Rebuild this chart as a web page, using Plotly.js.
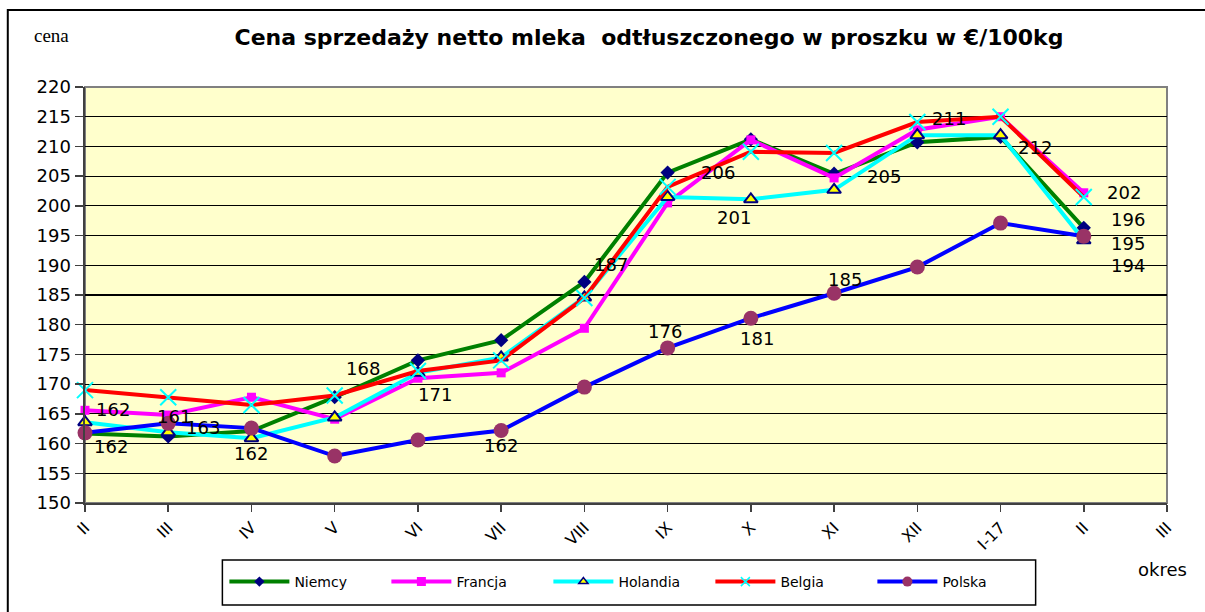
<!DOCTYPE html>
<html>
<head>
<meta charset="utf-8">
<script src="https://cdn.plot.ly/plotly-3.0.1.min.js"></script>
<style>html,body{margin:0;padding:0;background:#fff;}#chart{width:1205px;height:612px;}</style>
</head>
<body>
<div id="chart"></div>
<script>
const categories = ["II","III","IV","V","VI","VII","VIII","IX","X","XI","XII","I-17","II","III"];
const niemcy   = [161.7,161.2,162.1,167.8,174.0,177.4,187.2,205.6,211.2,205.4,210.7,211.6,196.3];
const francja  = [165.6,164.8,167.8,164.1,171.0,171.9,179.4,200.5,211.1,204.7,212.8,215.0,202.2];
const holandia = [163.6,161.9,160.9,164.4,171.9,174.5,184.6,201.5,201.1,202.7,211.9,211.9,194.2];
const belgia   = [169.0,167.8,166.5,168.1,172.2,174.0,184.5,203.2,209.1,208.9,214.1,215.0,201.5];
const polska   = [161.8,163.4,162.6,157.9,160.6,162.2,169.5,176.1,181.1,185.3,189.7,197.1,194.9];
const seriesNames = ["Niemcy","Francja","Holandia","Belgia","Polska"];
const yTicks = [150,155,160,165,170,175,180,185,190,195,200,205,210,215,220];

const SANS = "DejaVu Sans, Verdana, sans-serif";
const xIdx = categories.map((c,i)=>i);
const seriesData = [niemcy, francja, holandia, belgia, polska];
const lineColors = ["#008000","#FF00FF","#00FFFF","#FF0000","#0000FF"];
const markers = [
  {symbol:"diamond", size:11, color:"#000080"},
  {symbol:"square", size:9, color:"#FF00FF"},
  {symbol:"triangle-up", size:12, color:"#FFFF00", line:{color:"#000080", width:2}},
  {symbol:"x-thin-open", size:16, color:"#00FFFF", line:{color:"#00FFFF", width:2}},
  {symbol:"circle", size:15, color:"#993366"}
];
const legendMarkers = [
  {symbol:"diamond", size:8, color:"#000080"},
  {symbol:"square", size:9, color:"#FF00FF"},
  {symbol:"triangle-up", size:8, color:"#FFFF00", line:{color:"#000080", width:1.5}},
  {symbol:"x-thin-open", size:9, color:"#00FFFF", line:{color:"#00FFFF", width:1.5}},
  {symbol:"circle", size:10, color:"#993366"}
];

const traces = seriesData.map((vals,k)=>({
  type:"scatter", mode:"lines+markers", name:seriesNames[k], showlegend:false,
  x: xIdx.slice(0, vals.length), y: vals,
  line:{color:lineColors[k], width:4},
  marker: markers[k],
  cliponaxis:false
}));
const legendTraces = seriesNames.map((n,k)=>({
  type:"scatter", mode:"lines+markers", name:n, showlegend:true,
  x:[null], y:[null],
  line:{color:lineColors[k], width:4},
  marker: legendMarkers[k]
}));

// data labels: [series index, point index, xshift, yshift]
const labelSpec = [
  [0,0,28,24],[4,0,26,-14],[0,1,6,20],[4,1,35,-4],[0,2,0,-22],
  [0,3,28,29],[1,4,17,-16],[4,5,0,-15],[0,6,27,17],[4,7,-3,16],
  [0,7,50,0],[2,8,-17,-18],[4,8,6,-20],[4,9,11,14],[0,9,50,-3],
  [0,10,32,24],[0,11,34,-11],[1,12,40,0],[0,12,44,8],[4,12,44,-7],[2,12,44,-25]
];
const annotations = labelSpec.map(([s,i,dx,dy])=>({
  x:i, y:seriesData[s][i], xref:"x", yref:"y",
  text:String(Math.round(seriesData[s][i])), showarrow:false,
  xshift:dx, yshift:dy,
  font:{family:SANS, size:18, color:"#000"}
}));
annotations.push(
  {xref:"paper", yref:"paper", x:(32-85)/1079, y:(503-35)/416, xanchor:"left", yanchor:"middle",
   text:"cena", showarrow:false, font:{family:"Liberation Serif, Times New Roman, serif", size:19, color:"#000"}},
  {xref:"paper", yref:"paper", x:(1160-85)/1079, y:(503-569)/416, xanchor:"center", yanchor:"middle",
   text:"okres", showarrow:false, font:{family:SANS, size:18, color:"#000"}}
);

const px2x = p => (p-85)/1079;
const px2y = p => (503-p)/416;

const layout = {
  width:1205, height:612,
  margin:{l:85, r:38, t:87, b:109},
  paper_bgcolor:"#FFFFFF", plot_bgcolor:"#FFFFCC",
  title:{text:"<b>Cena sprzedaży netto mleka  odtłuszczonego w proszku w €/100kg</b>",
         x:649/1205, xanchor:"center", y:1-37/612, yanchor:"middle",
         font:{family:SANS, size:22, color:"#000"}},
  xaxis:{range:[0,13], tickvals:xIdx, ticktext:categories, tickangle:-45,
         showgrid:false, zeroline:false, showline:true, linecolor:"#404040", linewidth:2,
         ticks:"outside", ticklen:7, tickcolor:"#404040", tickwidth:1.5,
         tickfont:{family:SANS, size:16, color:"#000"}},
  yaxis:{range:[150,220], tickvals:yTicks, ticktext:yTicks.map(String),
         showgrid:true, gridcolor:"#000000", gridwidth:1.2, zeroline:false,
         showline:true, linecolor:"#404040", linewidth:2.5,
         ticks:"outside", ticklen:8, tickcolor:"#404040", tickwidth:1.5,
         tickfont:{family:SANS, size:18, color:"#000"}},
  showlegend:true,
  legend:{orientation:"h", x:px2x(224), xanchor:"left", y:px2y(582), yanchor:"middle",
          bgcolor:"rgba(0,0,0,0)", borderwidth:0,
          itemwidth:60, entrywidth:87, traceorder:"normal",
          font:{family:SANS, size:14, color:"#000"}},
  annotations:annotations,
  shapes:[
    {type:"rect", xref:"paper", yref:"paper", x0:0, x1:1, y0:0, y1:1,
     line:{color:"#808080", width:2}, fillcolor:"rgba(0,0,0,0)", layer:"below"},
    {type:"rect", xref:"paper", yref:"paper", x0:px2x(222), x1:px2x(1033), y0:px2y(605), y1:px2y(560),
     line:{color:"#000000", width:1.5}, fillcolor:"#FFFFFF", layer:"below"},
    {type:"path", xref:"paper", yref:"paper",
     path:`M ${px2x(8)} ${px2y(640)} L ${px2x(8)} ${px2y(10)} L ${px2x(1230)} ${px2y(10)}`,
     line:{color:"#000000", width:2}}
  ]
};

Plotly.newPlot("chart", traces.concat(legendTraces), layout, {displayModeBar:false, staticPlot:true});
</script>
</body>
</html>
